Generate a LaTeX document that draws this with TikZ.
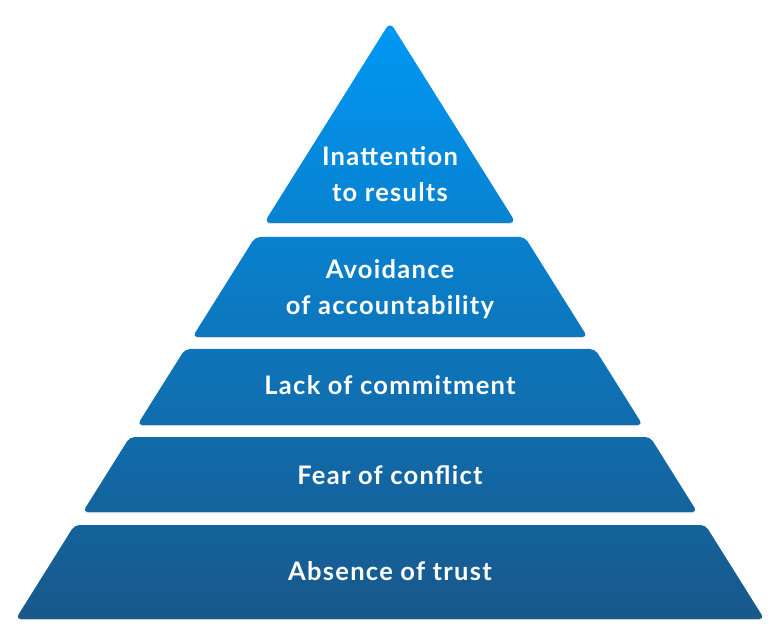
\documentclass[tikz,border=0pt]{standalone}
\usepackage{fontspec}
\setsansfont{Lato}[LetterSpace=5]
\usetikzlibrary{shadows}

\definecolor{pyrtop}{RGB}{0,152,245}
\definecolor{pyrbot}{RGB}{24,88,138}

\begin{document}
\begin{tikzpicture}[x=1pt, y=-1pt,
    font=\sffamily\bfseries\fontsize{25.5}{36}\selectfont,
    tier/.style={rounded corners=5pt,
      drop shadow={shadow xshift=0pt, shadow yshift=-1.2pt, opacity=0.25}},
    tiertext/.style={text=white, align=center}]
        \useasboundingbox (0,0) rectangle (780,639);

        % Top tier
        \path[tier, rounded corners=7pt, top color=pyrtop, bottom color=pyrtop!66!pyrbot]
            (390,22) -- (516,223) -- (264,223) -- cycle;
        \node[tiertext] (results) at (390,174) {Inattention\\to results};

        % Second tier
        \path[tier, top color=pyrtop!64!pyrbot, bottom color=pyrtop!47!pyrbot]
            (255.2,237) -- (524.8,237) -- (587.5,337) -- (192.5,337) -- cycle;
        \node[tiertext] (accountability) at (390,289) {Avoidance\\of accountability};

        % Third tier
        \path[tier, top color=pyrtop!45!pyrbot, bottom color=pyrtop!32!pyrbot]
            (185,349) -- (595,349) -- (642.7,425) -- (137.3,425) -- cycle;
        \node[tiertext, anchor=base] (commitment) at (390,395) {Lack of commitment};

        % Fourth tier
        \path[tier, top color=pyrtop!30!pyrbot, bottom color=pyrtop!18!pyrbot]
            (129.8,437) -- (650.2,437) -- (697.2,512) -- (82.8,512) -- cycle;
        \node[tiertext, anchor=base] (conflict) at (390,484) {Fear of conflict};

        % Base tier
        \path[tier, top color=pyrtop!16!pyrbot, bottom color=pyrbot]
            (74.6,525) -- (705.4,525) -- (764.3,619) -- (15.7,619) -- cycle;
        \node[tiertext, anchor=base] (trust) at (390,580) {Absence of trust};
    \end{tikzpicture}
\end{document}
